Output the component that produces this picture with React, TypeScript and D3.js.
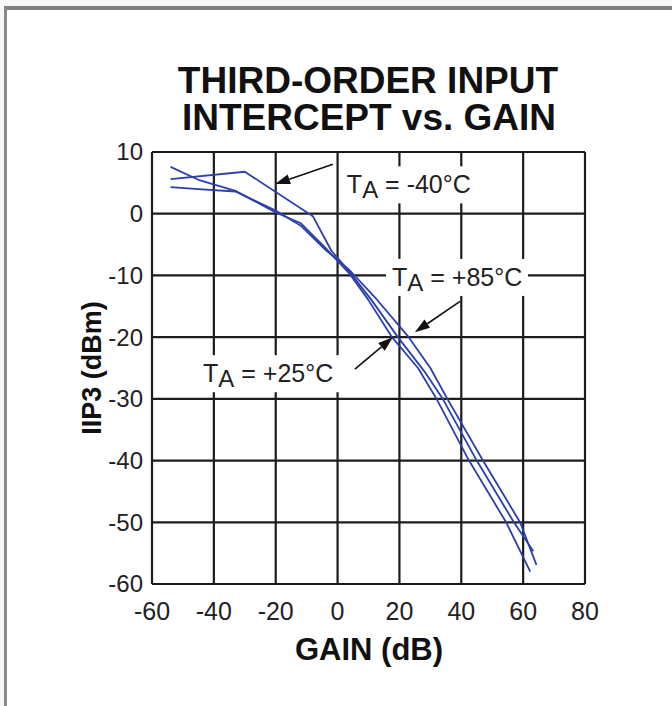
import React from "react";
import * as d3 from "d3";

// IIP3 vs gain, three temperatures
const xTicks = [-60, -40, -20, 0, 20, 40, 60, 80];
const yTicks = [10, 0, -10, -20, -30, -40, -50, -60];

const gain25 = [-54, -45, -33, -20, -12, -4, 4, 10, 17.6, 26, 32, 42.5, 54.5, 62.3];
const iip325 = [7.6, 5.5, 3.7, 0.2, -1.5, -5.5, -9.8, -14, -20, -25, -30, -40, -50, -58];

const gainM40 = [-54, -30, -8, -2, 4, 11, 19.5, 28, 34, 45, 57, 63.3];
const iip3M40 = [5.6, 6.8, -0.4, -6, -9.5, -14, -20, -25.5, -30, -40, -50, -54.7];

const gain85 = [-54, -45, -33, -20, -12, -4, 4, 12, 23, 30, 35.5, 47, 59, 64.3];
const iip385 = [4.3, 4.0, 3.6, 0.5, -1.9, -5.8, -9.2, -13.5, -20, -25, -30, -40, -50, -56.9];

const series = [
  { name: "+25", x: gain25, y: iip325 },
  { name: "-40", x: gainM40, y: iip3M40 },
  { name: "+85", x: gain85, y: iip385 },
];

// annotation labels: text anchor + arrow (tail -> tip), all in data units
const notes = [
  { temp: "-40°C", tx: 3, ty: 3.3, from: [-1.5, 8.0], to: [-20.2, 4.8] },
  { temp: "+85°C", tx: 17.6, ty: -11.7, from: [39.6, -14.2], to: [25, -19.2] },
  { temp: "+25°C", tx: -43.5, ty: -27.3, from: [5.6, -25.2], to: [17.9, -20] },
];

const W = 672;
const H = 706;
const left = 152;
const right = 585;
const top = 152;
const bottom = 584;

const App = () => {
  const x = d3.scaleLinear().domain([-60, 80]).range([left, right]);
  const y = d3.scaleLinear().domain([-60, 10]).range([bottom, top]);
  const line = d3
    .line<[number, number]>()
    .x((d) => x(d[0]))
    .y((d) => y(d[1]));

  const font = "'Liberation Sans', Arial, sans-serif";
  const ink = "#1c1c1c";
  const blue = "#2b40a8";

  const arrow = (from: number[], to: number[]) => {
    const x1 = x(from[0]);
    const y1 = y(from[1]);
    const x2 = x(to[0]);
    const y2 = y(to[1]);
    const a = Math.atan2(y2 - y1, x2 - x1);
    const len = 15;
    const wid = 5;
    const bx = x2 - len * Math.cos(a);
    const by = y2 - len * Math.sin(a);
    const p1 = [bx + wid * Math.sin(a), by - wid * Math.cos(a)];
    const p2 = [bx - wid * Math.sin(a), by + wid * Math.cos(a)];
    return (
      <g>
        <line x1={x1} y1={y1} x2={bx} y2={by} stroke="#111" strokeWidth={1.6} />
        <polygon points={`${x2},${y2} ${p1[0]},${p1[1]} ${p2[0]},${p2[1]}`} fill="#111" />
      </g>
    );
  };

  return (
    <svg
      width={W}
      height={H}
      style={{ position: "absolute", left: 0, top: 0 }}
      fontFamily={font}
    >
      <rect x={0} y={0} width={W} height={H} fill="#f7f7f7" />
      <rect x={5} y={8} width={W - 5} height={H - 8} fill="#fff" />
      <line x1={4} y1={8} x2={W} y2={8} stroke="#808080" strokeWidth={4} />
      <line x1={5.5} y1={8} x2={5.5} y2={H} stroke="#8a8a8a" strokeWidth={3} />

      <text x={368} y={93} textAnchor="middle" fontSize={37} fontWeight="bold" fill="#111">
        THIRD-ORDER INPUT
      </text>
      <text x={369} y={130} textAnchor="middle" fontSize={37} fontWeight="bold" fill="#111">
        INTERCEPT vs. GAIN
      </text>

      {/* grid */}
      {xTicks.map((t) => (
        <line key={"gx" + t} x1={x(t)} x2={x(t)} y1={top} y2={bottom} stroke={ink} strokeWidth={2.2} />
      ))}
      {yTicks.map((t) => (
        <line key={"gy" + t} x1={left} x2={right} y1={y(t)} y2={y(t)} stroke={ink} strokeWidth={2.2} />
      ))}

      {/* tick labels */}
      {xTicks.map((t) => (
        <text key={"tx" + t} x={x(t)} y={620} textAnchor="middle" fontSize={25} fill="#222">
          {t}
        </text>
      ))}
      {yTicks.map((t) => (
        <text key={"ty" + t} x={143} y={y(t)} dy="0.35em" textAnchor="end" fontSize={24} fill="#222">
          {t}
        </text>
      ))}

      <text x={369} y={660} textAnchor="middle" fontSize={31} fontWeight="bold" fill="#111">
        GAIN (dB)
      </text>
      <text
        transform={`translate(101,${(top + bottom) / 2}) rotate(-90)`}
        textAnchor="middle"
        fontSize={27}
        fontWeight="bold"
        fill="#111"
      >
        IIP3 (dBm)
      </text>

      {/* label boxes */}
      {notes.map((n) => (
        <rect
          key={"bg" + n.temp}
          x={x(n.tx) - 6}
          y={y(n.ty) - 27}
          width={142}
          height={37}
          fill="#fff"
        />
      ))}

      {/* curves */}
      {series.map((s) => (
        <path
          key={s.name}
          d={line(s.x.map((v, i) => [v, s.y[i]] as [number, number])) || ""}
          fill="none"
          stroke={blue}
          strokeWidth={1.8}
          strokeLinejoin="round"
        />
      ))}

      {notes.map((n) => (
        <g key={"n" + n.temp}>
          {arrow(n.from, n.to)}
          <text x={x(n.tx)} y={y(n.ty)} fontSize={25} fill="#222">
            T
            <tspan dy={5} fontSize={24}>A</tspan>
            <tspan dy={-5}>{" = " + n.temp}</tspan>
          </text>
        </g>
      ))}
    </svg>
  );
};

export default App;
